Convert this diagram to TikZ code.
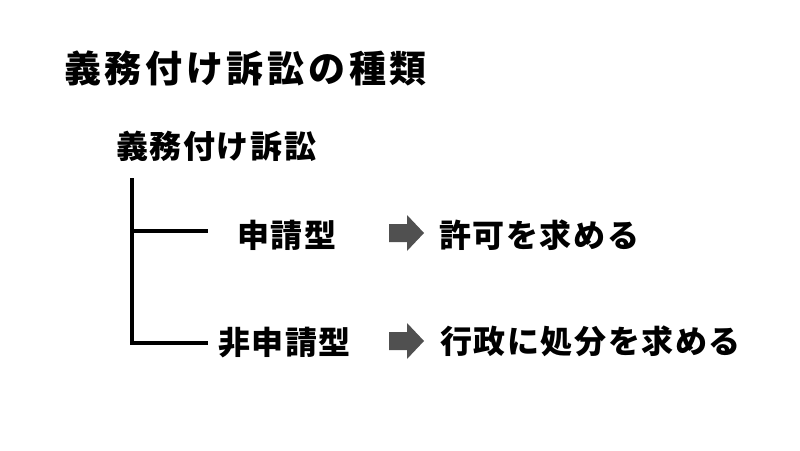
\documentclass[tikz,border=0pt]{standalone}
\usepackage{fontspec}
\newfontfamily\jptitle[LetterSpace=10]{Noto Sans CJK JP}
\newfontfamily\jpfont[LetterSpace=5]{Noto Sans CJK JP}
\usepackage{xcolor}
\definecolor{arrowgray}{HTML}{505050}

\begin{document}
\begin{tikzpicture}[x=1pt,y=-1pt,font=\jpfont\bfseries\fontsize{32}{38}\selectfont,
  every node/.style={anchor=west,inner sep=0pt},branch/.style={line width=3.3pt}]
\useasboundingbox (0,0) rectangle (800,450);
\node[font=\jptitle\bfseries\fontsize{37}{44}\selectfont] (title) at (64,68) {義務付け訴訟の種類};
\node (suit) at (116,146) {義務付け訴訟};
\node (appl) at (237,235) {申請型};
\node (nonappl) at (218,343) {非申請型};
\node (permit) at (439,235) {許可を求める};
\node (order) at (440,341) {行政に処分を求める};
% tree
\coordinate (top) at (132,178);
\coordinate (fork) at (132,231);
\coordinate (b1) at (208,231);
\coordinate (b2) at (208,343);
\draw[branch] (top) |- (b2);
\draw[branch] (fork) -- (b1);
% block arrows
\foreach \y in {233,341}
  \fill[arrowgray] (389,\y-9) -- (407,\y-9) -- (407,\y-18) -- (424,\y)
    -- (407,\y+18) -- (407,\y+9) -- (389,\y+9) -- cycle;
\end{tikzpicture}
\end{document}
